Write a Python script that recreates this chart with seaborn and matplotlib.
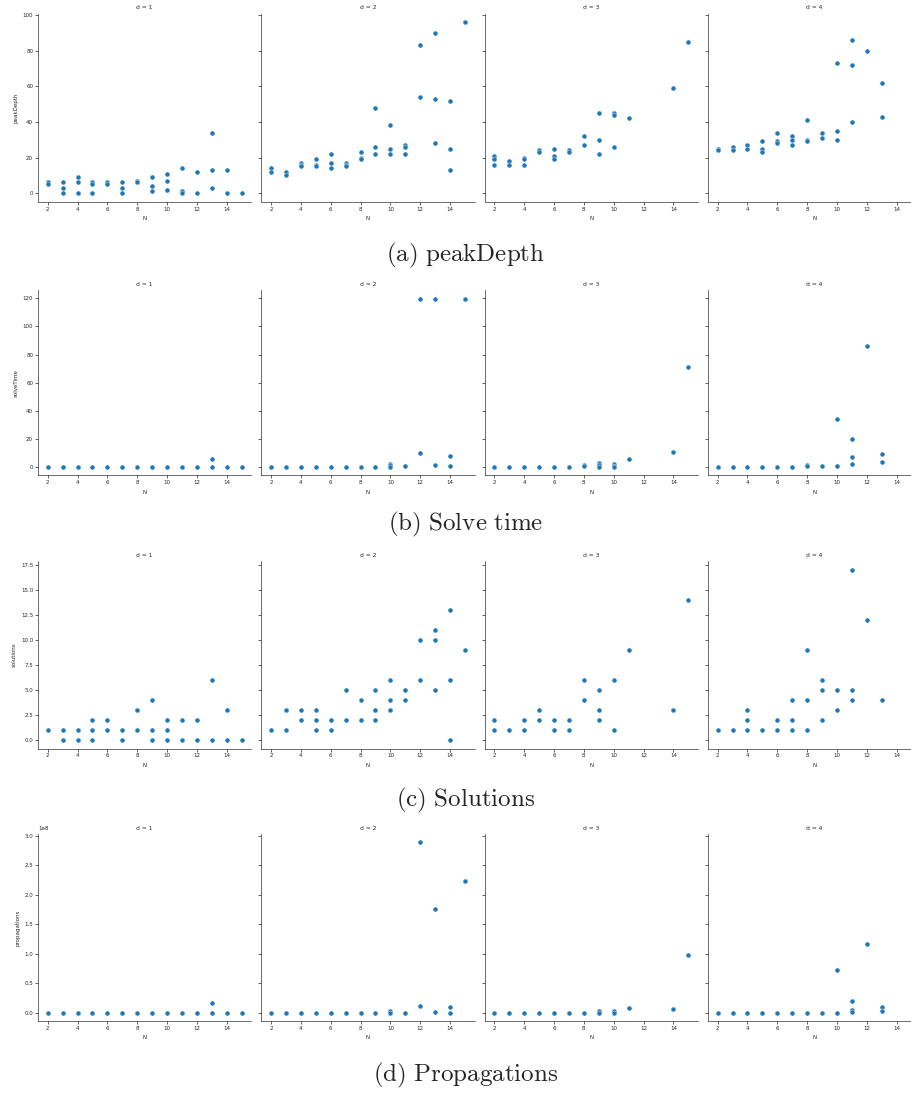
import numpy as np
import pandas as pd
import matplotlib
matplotlib.use("Agg")
import matplotlib.pyplot as plt
import seaborn as sns

# ---- data: for each depth d, {N: [values of the runs at that N]} ----
depths = [1, 2, 3, 4]

peak_depth = {
    1: {2: [6, 5], 3: [6, 3, 0], 4: [9, 6, 0], 5: [6, 5, 0], 6: [6, 5], 7: [6, 3, 0],
        8: [7, 6], 9: [9, 4, 1], 10: [11, 7, 2], 11: [14, 1, 0], 12: [12, 0],
        13: [34, 13, 3], 14: [13, 0], 15: [0]},
    2: {2: [14, 12], 3: [12, 10], 4: [17, 16, 15], 5: [19, 16, 15], 6: [22, 17, 14],
        7: [17, 16, 15], 8: [23, 20, 19], 9: [48, 26, 22], 10: [38, 25, 22],
        11: [27, 26, 22], 12: [83, 54], 13: [90, 53, 28], 14: [52, 25, 13], 15: [96]},
    3: {2: [21, 19, 16], 3: [18, 16], 4: [20, 19, 16], 5: [24, 23], 6: [25, 21, 19],
        7: [24, 23], 8: [32, 27], 9: [45, 30, 22], 10: [45, 44, 26], 11: [42],
        14: [59], 15: [85]},
    4: {2: [25, 24], 3: [26, 24], 4: [27, 25], 5: [29, 25, 23], 6: [34, 29, 28],
        7: [32, 30, 27], 8: [41, 30, 29], 9: [34, 31], 10: [73, 35, 30],
        11: [86, 72, 40], 12: [80], 13: [62, 43]},
}

solve_time = {
    1: {2: [0], 3: [0], 4: [0], 5: [0], 6: [0], 7: [0], 8: [0], 9: [0], 10: [0],
        11: [0], 12: [0], 13: [5.6, 0], 14: [0], 15: [0]},
    2: {2: [0], 3: [0], 4: [0], 5: [0], 6: [0], 7: [0], 8: [0], 9: [0.4, 0],
        10: [2.3, 1.2, 0], 11: [1], 12: [119.8, 10], 13: [119.8, 1.6], 14: [8, 1],
        15: [119.8]},
    3: {2: [0], 3: [0], 4: [0], 5: [0], 6: [0], 7: [0], 8: [1.4, 0.7],
        9: [3, 1.4, 0.2], 10: [2, 1, 0], 11: [6], 14: [11], 15: [71]},
    4: {2: [0], 3: [0], 4: [0], 5: [0], 6: [0], 7: [0], 8: [1.4, 0.5], 9: [1],
        10: [34, 1], 11: [19.6, 7, 2], 12: [86], 13: [9.3, 3.5]},
}

solutions = {
    1: {2: [1], 3: [1, 0], 4: [1, 0], 5: [2, 1, 0], 6: [2, 1], 7: [1, 0], 8: [3, 1],
        9: [4, 1, 0], 10: [2, 1, 0], 11: [2, 0], 12: [2, 0], 13: [6, 0], 14: [3, 0], 15: [0]},
    2: {2: [1], 3: [3, 1], 4: [3, 2], 5: [3, 2, 1], 6: [2, 1], 7: [5, 2], 8: [4, 2],
        9: [5, 3, 2], 10: [6, 4, 3], 11: [5, 4], 12: [10, 6], 13: [11, 10, 5],
        14: [13, 6, 0], 15: [9]},
    3: {2: [2, 1], 3: [1], 4: [2, 1], 5: [3, 2], 6: [2, 1], 7: [2, 1], 8: [6, 4],
        9: [5, 3, 2], 10: [6, 1], 11: [9], 14: [3], 15: [14]},
    4: {2: [1], 3: [1], 4: [3, 2, 1], 5: [1], 6: [2, 1], 7: [4, 2, 1], 8: [9, 4, 1],
        9: [6, 5, 2], 10: [5, 3], 11: [17, 5, 4], 12: [12], 13: [4]},
}

# propagations, in units of 1e8
propagations_1e8 = {
    1: {2: [0], 3: [0], 4: [0], 5: [0], 6: [0], 7: [0], 8: [0], 9: [0], 10: [0],
        11: [0], 12: [0], 13: [0.17, 0], 14: [0], 15: [0]},
    2: {2: [0], 3: [0], 4: [0], 5: [0], 6: [0], 7: [0], 8: [0], 9: [0],
        10: [0.02, 0], 11: [0], 12: [2.89, 0.12], 13: [1.76, 0.01], 14: [0.10, 0], 15: [2.23]},
    3: {2: [0], 3: [0], 4: [0], 5: [0], 6: [0], 7: [0], 8: [0], 9: [0.03, 0],
        10: [0.03, 0], 11: [0.08], 14: [0.07], 15: [0.97]},
    4: {2: [0], 3: [0], 4: [0], 5: [0], 6: [0], 7: [0], 8: [0], 9: [0],
        10: [0.73, 0], 11: [0.19, 0.05, 0.01], 12: [1.17], 13: [0.10, 0.02]},
}
propagations = {d: {n: [v * 1e8 for v in vals] for n, vals in per_n.items()}
                for d, per_n in propagations_1e8.items()}

metric_names = ["peakDepth", "solveTime", "solutions", "propagations"]
metric_data = [peak_depth, solve_time, solutions, propagations]
captions = [r"$\mathrm{(a)\ peakDepth}$", r"$\mathrm{(b)\ Solve\ time}$",
            r"$\mathrm{(c)\ Solutions}$", r"$\mathrm{(d)\ Propagations}$"]
y_ticks = [np.arange(0, 101, 20), np.arange(0, 121, 20),
           np.arange(0, 17.6, 2.5), np.arange(0, 3.01e8, 0.5e8)]
x_ticks = np.arange(2, 15, 2)

rows = []
for name, table in zip(metric_names, metric_data):
    for d, per_n in table.items():
        for n, vals in per_n.items():
            for v in vals:
                rows.append({"metric": name, "d": d, "N": n, "value": v})
df = pd.DataFrame(rows)

# ---- styling ----
sns.set_theme(style="ticks")
plt.rcParams.update({
    "font.family": ["DejaVu Sans"],
    "mathtext.fontset": "cm",
    "axes.linewidth": 0.5,
    "axes.edgecolor": "#333333",
    "xtick.major.width": 0.5,
    "ytick.major.width": 0.5,
    "xtick.major.size": 2,
    "ytick.major.size": 2,
    "xtick.major.pad": 1.5,
    "ytick.major.pad": 1.5,
    "xtick.labelsize": 4,
    "ytick.labelsize": 4,
    "axes.labelsize": 4,
    "axes.titlesize": 4.3,
})

W, H = 911, 1093
fig = plt.figure(figsize=(W / 100, H / 100), dpi=100)

col_left = [38 + i * 223.3 for i in range(4)]
col_width = 213.4
row_top = [13.6, 290.1, 561.0, 833.7]
row_bottom = [201.7, 475.5, 748.5, 1021.2]
caption_y = [255, 524, 800, 1075]

first_ax = None
for r, name in enumerate(metric_names):
    row_ax = None
    for c, d in enumerate(depths):
        rect = [col_left[c] / W, 1 - row_bottom[r] / H,
                col_width / W, (row_bottom[r] - row_top[r]) / H]
        ax = fig.add_axes(rect, sharex=first_ax, sharey=row_ax)
        if first_ax is None:
            first_ax = ax
        if row_ax is None:
            row_ax = ax
        sub = df[(df.metric == name) & (df.d == d)]
        sns.scatterplot(data=sub, x="N", y="value", ax=ax, s=13,
                        color="#1f77b4", edgecolor="white", linewidth=0.3)
        ax.set_title(f"d = {d}", pad=3)
        ax.set_xlabel("N", labelpad=3)
        ax.set_xticks(x_ticks)
        ax.set_yticks(y_ticks[r])
        if c == 0:
            ax.set_ylabel(name, labelpad=3)
        else:
            ax.set_ylabel("")
            ax.tick_params(axis="y", labelleft=False)
        ax.yaxis.get_offset_text().set_fontsize(4)
        sns.despine(ax=ax)
    fig.text(466 / W, 1 - caption_y[r] / H, captions[r],
             ha="center", va="center", fontsize=18)

fig.savefig("out.png", dpi=100)
